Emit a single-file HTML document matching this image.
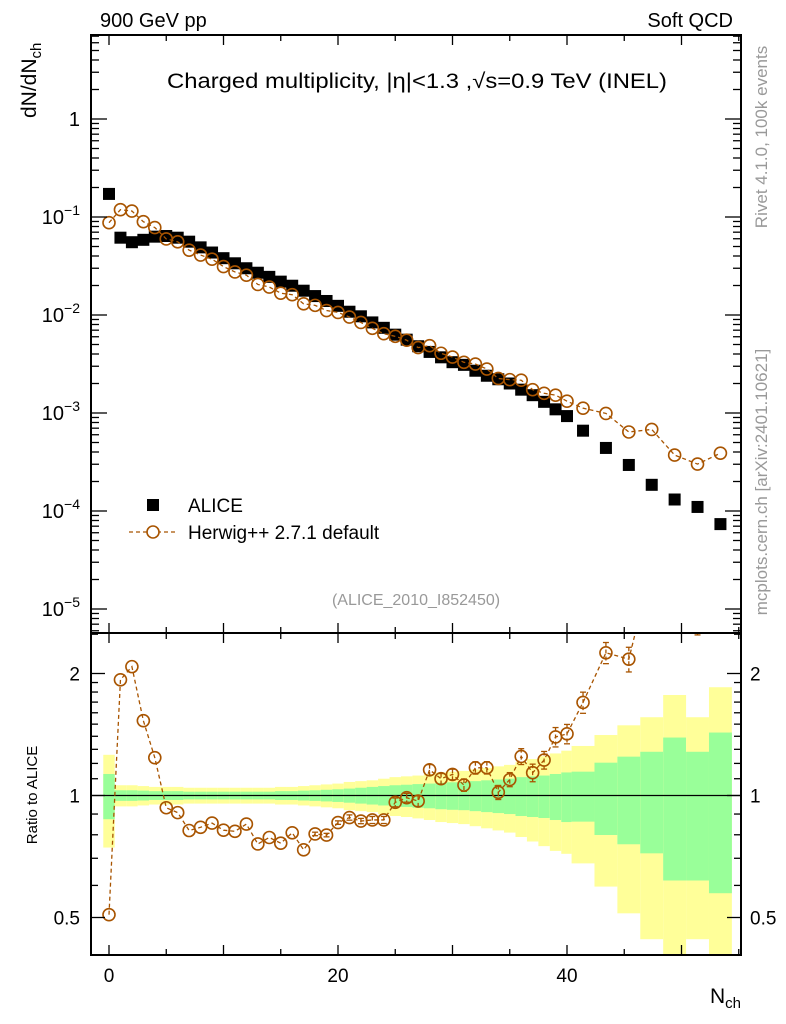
<!DOCTYPE html>
<html><head><meta charset="utf-8"><style>
body{margin:0;background:#fff}
svg{display:block;font-family:"Liberation Sans",sans-serif}
</style></head><body>
<svg id="chart" width="786" height="1024" viewBox="0 0 786 1024" xmlns="http://www.w3.org/2000/svg">
<g id="bands"></g>
<g id="marks"></g>
<g id="axes"></g>
<text x="100" y="27" font-size="20">900 GeV pp</text>
<text x="733" y="27" font-size="20" text-anchor="end">Soft QCD</text>
<text x="167" y="88" font-size="21" textLength="500" lengthAdjust="spacingAndGlyphs">Charged multiplicity, |η|&lt;1.3 ,√s=0.9 TeV (INEL)</text>
<text x="416" y="605" font-size="16" fill="#999" text-anchor="middle">(ALICE_2010_I852450)</text>
<text transform="translate(767,137) rotate(-90)" font-size="17" fill="#999" text-anchor="middle">Rivet 4.1.0,  100k events</text>
<text transform="translate(767,482) rotate(-90)" font-size="17" fill="#999" text-anchor="middle">mcplots.cern.ch [arXiv:2401.10621]</text>
<text transform="translate(36,118) rotate(-90)" font-size="21">dN/dN<tspan font-size="15" dy="5">ch</tspan></text>
<text transform="translate(37,795) rotate(-90)" font-size="15" text-anchor="middle">Ratio to ALICE</text>
<text x="710" y="1003" font-size="21">N<tspan font-size="15" dy="5">ch</tspan></text>
<g>
<rect x="147" y="499" width="12" height="12" fill="#000"/>
<text x="188" y="512" font-size="19">ALICE</text>
<line x1="129" y1="532" x2="178" y2="532" stroke="#a85400" stroke-width="1.3" stroke-dasharray="4,3"/>
<circle cx="153" cy="532" r="6" fill="#fff" stroke="#a85400" stroke-width="1.6"/>
<text x="188" y="539" font-size="19">Herwig++ 2.7.1 default</text>
</g>
</svg>
<script>
const nch = [0,1,2,3,4,5,6,7,8,9,10,11,12,13,14,15,16,17,18,19,20,21,22,23,24,25,26,27,28,29,30,31,32,33,34,35,36,37,38,39,40,41.4,43.4,45.4,47.4,49.4,51.4,53.4];
const binLo = [-0.5,0.5,1.5,2.5,3.5,4.5,5.5,6.5,7.5,8.5,9.5,10.5,11.5,12.5,13.5,14.5,15.5,16.5,17.5,18.5,19.5,20.5,21.5,22.5,23.5,24.5,25.5,26.5,27.5,28.5,29.5,30.5,31.5,32.5,33.5,34.5,35.5,36.5,37.5,38.5,39.5,40.4,42.4,44.4,46.4,48.4,50.4,52.4];
const binHi = [0.5,1.5,2.5,3.5,4.5,5.5,6.5,7.5,8.5,9.5,10.5,11.5,12.5,13.5,14.5,15.5,16.5,17.5,18.5,19.5,20.5,21.5,22.5,23.5,24.5,25.5,26.5,27.5,28.5,29.5,30.5,31.5,32.5,33.5,34.5,35.5,36.5,37.5,38.5,39.5,40.4,42.4,44.4,46.4,48.4,50.4,52.4,54.4];
const alice = [0.172,0.0615,0.0553,0.0585,0.063,0.064,0.0615,0.056,0.049,0.0434,0.038,0.0337,0.030,0.027,0.0245,0.0219,0.0199,0.0177,0.0156,0.0139,0.0124,0.0108,0.0097,0.0084,0.0074,0.0063,0.0056,0.0048,0.0042,0.0037,0.0033,0.0031,0.0027,0.0024,0.00221,0.0020,0.00173,0.00152,0.0013,0.00109,0.00093,0.00066,0.00044,0.000295,0.000185,0.000131,0.00011,0.0000735];
const herwig = [0.0874,0.1187,0.115,0.0895,0.0781,0.0597,0.0558,0.0459,0.0409,0.0371,0.0312,0.0275,0.0255,0.0205,0.0193,0.0167,0.0161,0.013,0.01254,0.0111,0.01063,0.00953,0.00839,0.00731,0.00644,0.00606,0.00553,0.00465,0.00486,0.00407,0.00372,0.00329,0.00316,0.00281,0.00225,0.00219,0.00216,0.00173,0.00159,0.00152,0.00132,0.00112,0.00099,0.00064,0.00068,0.000372,0.000301,0.000389];
const herwigRelErr = [0,0,0,0,0,0,0,0,0,0,0,0,0,0,0,0,0,0,0.01,0.01,0.01,0.015,0.015,0.02,0.02,0.025,0.025,0.03,0.03,0.03,0.03,0.035,0.035,0.035,0.04,0.04,0.045,0.05,0.05,0.055,0.055,0.06,0.06,0.07,0.07,0.08,0.09,0.08];
const yellowHi = [1.26,1.06,1.06,1.055,1.05,1.05,1.05,1.045,1.045,1.045,1.045,1.045,1.045,1.045,1.045,1.05,1.05,1.055,1.06,1.065,1.07,1.08,1.085,1.09,1.10,1.11,1.115,1.12,1.13,1.14,1.145,1.15,1.16,1.17,1.18,1.19,1.21,1.23,1.25,1.27,1.29,1.325,1.41,1.49,1.56,1.77,1.56,1.85];
const yellowLo = [0.744,0.94,0.94,0.945,0.95,0.95,0.95,0.955,0.955,0.955,0.955,0.955,0.955,0.955,0.955,0.95,0.95,0.945,0.94,0.935,0.93,0.92,0.915,0.91,0.90,0.89,0.885,0.878,0.87,0.86,0.855,0.85,0.84,0.83,0.82,0.81,0.79,0.77,0.75,0.73,0.718,0.68,0.596,0.512,0.442,0.35,0.442,0.35];
const greenHi = [1.13,1.03,1.03,1.028,1.025,1.025,1.025,1.022,1.022,1.022,1.022,1.022,1.022,1.022,1.022,1.025,1.025,1.028,1.03,1.033,1.036,1.04,1.045,1.05,1.055,1.06,1.063,1.067,1.07,1.075,1.078,1.08,1.085,1.09,1.095,1.10,1.11,1.115,1.12,1.13,1.14,1.145,1.205,1.247,1.282,1.39,1.282,1.43];
const greenLo = [0.874,0.97,0.97,0.972,0.975,0.975,0.975,0.978,0.978,0.978,0.978,0.978,0.978,0.978,0.978,0.975,0.975,0.972,0.97,0.967,0.964,0.96,0.955,0.95,0.945,0.94,0.937,0.933,0.93,0.925,0.922,0.92,0.915,0.91,0.905,0.90,0.89,0.885,0.88,0.87,0.86,0.862,0.799,0.758,0.72,0.617,0.617,0.574];
const xTicks = [0,20,40];
const mainTickExps = [0,-1,-2,-3,-4,-5];
const ratioTickLabels = ["0.5","1","2"];
const ratioTickVals = [0.5,1,2];

const NS="http://www.w3.org/2000/svg";
const L=91,R=741,MT=35,MB=633,RT=633,RB=955;
const X=n=>109+11.45*n;
const Y=v=>119-98*Math.log10(v);
const RY=r=>795.5-122*Math.log2(r);
const clampR=y=>Math.max(RT,Math.min(RB,y));
function mk(p,tag,at){const e=document.createElementNS(NS,tag);for(const k in at)e.setAttribute(k,at[k]);p.appendChild(e);return e;}
const bands=document.getElementById('bands'),marks=document.getElementById('marks'),axes=document.getElementById('axes');

for(let i=0;i<nch.length;i++){
  const x0=X(binLo[i]),x1=X(binHi[i]);
  let y0=clampR(RY(yellowHi[i])),y1=clampR(RY(yellowLo[i]));
  const yb=mk(bands,'rect',{x:x0,y:y0,width:x1-x0,height:y1-y0,fill:'#ffff99'});
  
  
  y0=clampR(RY(greenHi[i]));y1=clampR(RY(greenLo[i]));
  const gb=mk(bands,'rect',{x:x0,y:y0,width:x1-x0,height:y1-y0,fill:'#99ff99'});
  
  
}
mk(bands,'line',{x1:L,x2:R,y1:RY(1),y2:RY(1),stroke:'#000','stroke-width':1.2});

for(let i=0;i<nch.length;i++){
  const s=mk(marks,'rect',{x:X(nch[i])-6,y:Y(alice[i])-6,width:12,height:12,fill:'#000'});
  
  
}
const col='#a85400';
let pts=nch.map((n,i)=>X(n)+','+Y(herwig[i])).join(' ');
const hl=mk(marks,'polyline',{points:pts,fill:'none',stroke:col,'stroke-width':1.3,'stroke-dasharray':'4,3'});


for(let i=0;i<nch.length;i++){
  const c=mk(marks,'circle',{cx:X(nch[i]),cy:Y(herwig[i]),r:6,fill:'none',stroke:col,'stroke-width':1.6});
  
  
}
const rsvg=mk(marks,'svg',{x:L,y:RT,width:R-L,height:RB-RT,viewBox:`${L} ${RT} ${R-L} ${RB-RT}`,overflow:'hidden'});
const ratio=herwig.map((h,i)=>h/alice[i]);
pts=nch.map((n,i)=>X(n)+','+RY(ratio[i])).join(' ');
const rl=mk(rsvg,'polyline',{points:pts,fill:'none',stroke:col,'stroke-width':1.3,'stroke-dasharray':'4,3'});


for(let i=0;i<nch.length;i++){
  const x=X(nch[i]),r=ratio[i],e=herwigRelErr[i];
  if(e>0){
    const yt=RY(r*(1+e)),yb=RY(r*(1-e));
    mk(rsvg,'line',{x1:x,x2:x,y1:yt,y2:yb,stroke:col,'stroke-width':1.3,'stroke-dasharray':'4,3'});
    mk(rsvg,'line',{x1:x-3,x2:x+3,y1:yt,y2:yt,stroke:col,'stroke-width':1.3});
    mk(rsvg,'line',{x1:x-3,x2:x+3,y1:yb,y2:yb,stroke:col,'stroke-width':1.3});
  }
  const c=mk(rsvg,'circle',{cx:x,cy:RY(r),r:6,fill:'none',stroke:col,'stroke-width':1.6});
  
  
}

mk(axes,'rect',{x:L,y:MT,width:R-L,height:MB-MT,fill:'none',stroke:'#000','stroke-width':2});
mk(axes,'rect',{x:L,y:RT,width:R-L,height:RB-RT,fill:'none',stroke:'#000','stroke-width':2});
function tk(x1,y1,x2,y2){mk(axes,'line',{x1,y1,x2,y2,stroke:'#000','stroke-width':1.3});}
for(let n=0;n<=55;n+=5){
  const x=X(n),len=n%10==0?10:6;
  tk(x,MT,x,MT+len);tk(x,MB,x,MB-len);tk(x,RT,x,RT+len);tk(x,RB,x,RB-len);
}
for(const v of xTicks){
  const t=mk(axes,'text',{x:X(v),y:982,'font-size':19,'text-anchor':'middle'});t.textContent=v;
  
  
}
for(let e=-6;e<=1;e++){
  for(let m=1;m<10;m++){
    const y=Y(m*Math.pow(10,e));if(y<MT||y>MB)continue;
    const len=m==1?16:8;tk(L,y,L+len,y);tk(R,y,R-len,y);
  }
}
for(const e of mainTickExps){
  const t=mk(axes,'text',{x:80,y:Y(Math.pow(10,e))+7,'font-size':20,'text-anchor':'end'});
  if(e==0)t.textContent='1';else{t.textContent='10';const s=mk(t,'tspan',{dy:-9,'font-size':14});s.textContent='−'+(-e);}
  
  
}
for(const v of [0.4,0.5,0.6,0.7,0.8,0.9,1,1.1,1.2,1.3,1.4,1.5,1.6,1.7,1.8,1.9,2,2.5]){
  const y=RY(v);if(y<RT||y>RB)continue;
  const len=(v==0.5||v==1||v==2)?14:7;tk(L,y,L+len,y);tk(R,y,R-len,y);
}
ratioTickVals.forEach((v,i)=>{
  const t=mk(axes,'text',{x:80,y:RY(v)+7,'font-size':19,'text-anchor':'end'});t.textContent=ratioTickLabels[i];
  
  
  const t2=mk(axes,'text',{x:750,y:RY(v)+7,'font-size':19});t2.textContent=ratioTickLabels[i];
  
  
});
</script>
</body></html>
